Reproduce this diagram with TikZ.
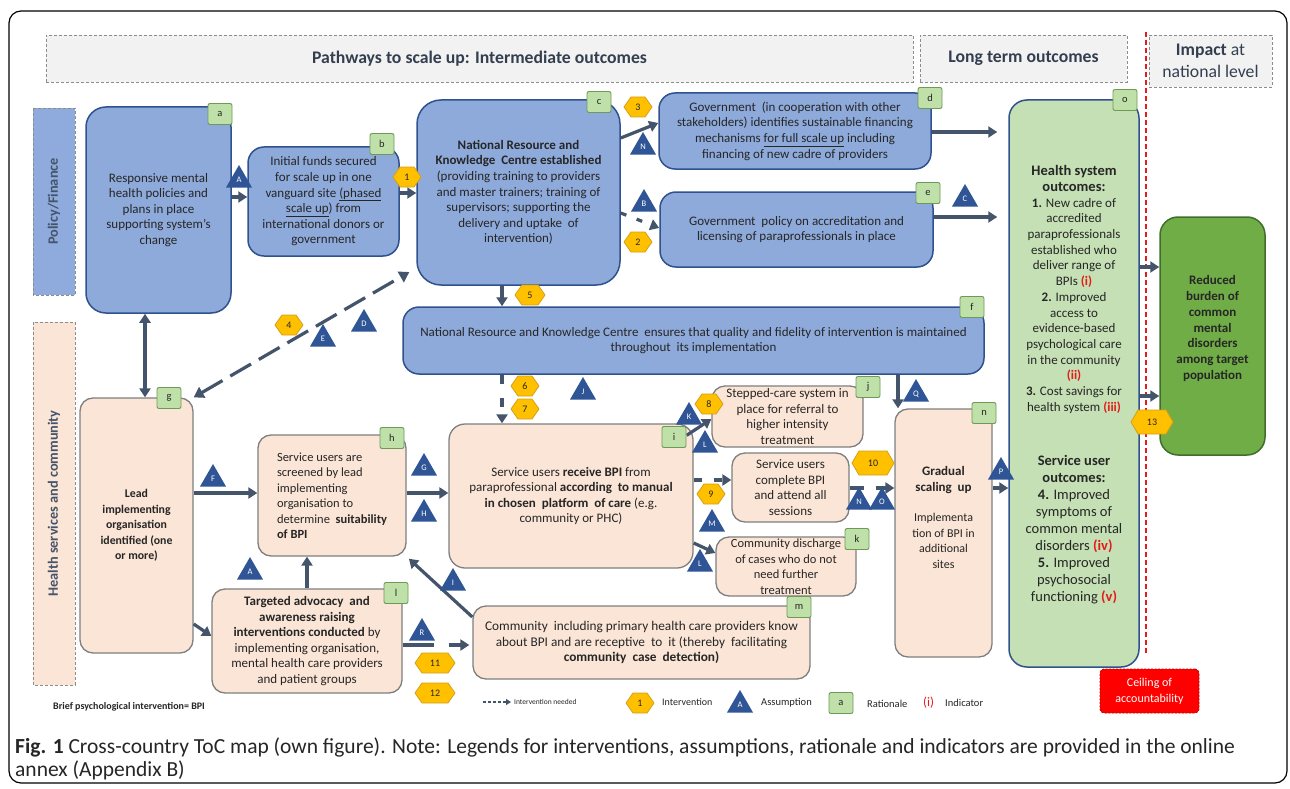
\documentclass[tikz,border=0pt]{standalone}
\usepackage{fontspec}
\setmainfont{Carlito}
\usetikzlibrary{arrows.meta,shapes.geometric,calc,backgrounds}
\definecolor{bfill}{HTML}{8EAADB}
\definecolor{bline}{HTML}{2F528F}
\definecolor{pfill}{HTML}{FBE5D6}
\definecolor{pline}{HTML}{7F7F7F}
\definecolor{ofill}{HTML}{C5E0B4}
\definecolor{rfill}{HTML}{70AD47}
\definecolor{rline}{HTML}{3F6F2A}
\definecolor{gfill}{HTML}{BFE0A8}
\definecolor{gline}{HTML}{6E9A57}
\definecolor{hfill}{HTML}{FFC000}
\definecolor{hline}{HTML}{D4A017}
\definecolor{tfill}{HTML}{2F5597}
\definecolor{conncol}{HTML}{44546A}
\definecolor{txt}{HTML}{262626}
\definecolor{headtxt}{HTML}{333F50}
\definecolor{headfill}{HTML}{F2F2F2}
\definecolor{headline}{HTML}{8C8C8C}
\definecolor{indred}{HTML}{E31B1B}
\definecolor{sidefillb}{HTML}{8FAADC}
\definecolor{ceilred}{HTML}{FF0000}
\definecolor{ceilline}{HTML}{C00000}
\newcommand\fsN{\fontsize{13}{15.6}\selectfont}
\newcommand\fsM{\fontsize{13}{15.5}\selectfont}
\newcommand\indi[1]{\textcolor{indred}{\textbf{#1}}}
\newcommand\myhex[6]{%
  \path[hexshape] (#2-#4,#3) -- (#2-#4+7,#3-#5) -- (#2+#4-7,#3-#5) -- (#2+#4,#3) -- (#2+#4-7,#3+#5) -- (#2-#4+7,#3+#5) -- cycle;
  \node[hextext] (#1) at (#2,#3) {#6};}
\tikzset{
 bluebox/.style={draw=bline, fill=bfill, line width=1.5pt, rounded corners=16pt, text=txt, align=center, inner sep=1pt, font=\fsN},
 peachbox/.style={draw=pline, fill=pfill, line width=1.3pt, rounded corners=13pt, text=txt, align=center, inner sep=1pt, font=\fsN},
 badge/.style={draw=gline, fill=gfill, line width=0.9pt, rounded corners=2pt, minimum width=24pt, minimum height=21pt, inner sep=0pt, text=txt, font=\fontsize{10.5}{12}\selectfont},
 tri/.style={regular polygon, regular polygon sides=3, minimum size=30pt, inner sep=0pt, fill=tfill, text=white, font=\fontsize{8.5}{9}\selectfont},
 hexshape/.style={fill=hfill, draw=hline, line width=0.8pt},
 hextext/.style={inner sep=0pt, text=txt, font=\fontsize{10}{11}\selectfont},
 conn/.style={draw=conncol, line width=3.2pt, -{Triangle[length=9pt,width=11pt]}},
 header/.style={draw=headline, fill=headfill, dash pattern=on 3pt off 2pt, line width=0.8pt, text=headtxt, font=\fontsize{17.7}{22}\selectfont, align=center},
 side/.style={draw=headline, dash pattern=on 3pt off 2pt, line width=0.8pt, rotate=90, text=conncol, font=\fontsize{14.3}{16}\selectfont\bfseries},
 legtxt/.style={anchor=west, text=txt, inner sep=0pt},
 plaintxt/.style={text=txt, align=center, inner sep=0pt}
}
\begin{document}
\begin{tikzpicture}[x=1pt,y=-1pt]
\useasboundingbox (0,0) rectangle (1290,789);
\fill[white] (0,0) rectangle (1290,789);
\draw[black, line width=1.2pt, rounded corners=12pt] (9,11) rectangle (1287,783);

% headers
\node[header, minimum width=867pt, minimum height=47pt] (h1) at (479.5,58.5) {\textbf{Pathways to scale up: Intermediate outcomes}};
\node[header, minimum width=207pt, minimum height=47pt] (h2) at (1023.5,58.5) {\textbf{Long term outcomes}};
\node[header, minimum width=123pt, minimum height=52pt] (h3) at (1210.5,61) {\textbf{Impact} at\\national level};
\draw[indred, line width=1.6pt, dash pattern=on 5pt off 3pt] (1146,32) -- (1146,655);

% side labels
\node[side, fill=sidefillb, minimum width=187pt, minimum height=42pt] (pf) at (54,201.5) {Policy/Finance};
\node[side, fill=pfill, minimum width=363pt, minimum height=42pt] (hsc) at (54,503.5) {Health services and community};

% blue boxes
\node[bluebox, minimum width=145pt, minimum height=206pt, rounded corners=20pt] (a) at (158.5,210) {Responsive mental\\health policies and\\plans in place\\supporting system’s\\change};
\node[bluebox, minimum width=151pt, minimum height=109pt] (b) at (323.5,201.5) {Initial funds secured\\for scale up in one\\vanguard site \underline{(phased}\\\underline{scale up}) from\\international donors or\\government};
\node[bluebox, minimum width=203pt, minimum height=185pt, rounded corners=24pt] (c) at (518.5,192.5) {\textbf{National Resource and}\\\textbf{Knowledge\ \ Centre established}\\(providing training to providers\\and master trainers; training of\\supervisors; supporting the\\delivery and uptake\ \ of\\intervention)};
\node[bluebox, minimum width=272pt, minimum height=76pt] (d) at (795,131) {Government\ \ (in cooperation with other\\stakeholders) identifies sustainable financing\\mechanisms \underline{for full scale up} including\\financing of new cadre of providers};
\node[bluebox, minimum width=273pt, minimum height=75pt] (e) at (796.5,229.5) {Government\ \ policy on accreditation and\\licensing of paraprofessionals in place};
\node[bluebox, minimum width=581pt, minimum height=67pt] (f) at (693.5,340.5) {National Resource and Knowledge Centre\ \ ensures that quality and fidelity of intervention is maintained\\throughout\ \ its implementation};

% outcome boxes
\node[draw=bline, fill=ofill, line width=1.5pt, rounded corners=18pt, minimum width=130pt, minimum height=567pt] (o) at (1074,383.5) {};
\node[plaintxt, font=\fontsize{13}{15.7}\selectfont] (ot1) at (1074,289.5) {{\fontsize{14.5}{16}\selectfont\textbf{Health system}}\\{\fontsize{14.5}{16}\selectfont\textbf{outcomes:}}\\\textbf{1.} New cadre of\\accredited\\paraprofessionals\\established who\\deliver range of\\BPIs \indi{(i)}\\\textbf{2.} Improved\\access to\\evidence-based\\psychological care\\in the community\\\indi{(ii)}\\\textbf{3.} Cost savings for\\health system \indi{(iii)}};
\node[plaintxt, font=\fontsize{14.5}{17}\selectfont] (ot2) at (1074,530) {\textbf{Service user}\\\textbf{outcomes:}\\\textbf{4.} Improved\\symptoms of\\common mental\\disorders \indi{(iv)}\\\textbf{5.} Improved\\psychosocial\\functioning \indi{(v)}};
\node[draw=rline, fill=rfill, line width=1.5pt, rounded corners=18pt, minimum width=105pt, minimum height=238pt] (R) at (1212.5,336) {};
\node[plaintxt, font=\fontsize{13}{15.7}\selectfont\bfseries] (Rt) at (1212.5,328.5) {Reduced\\burden of\\common\\mental\\disorders\\among target\\population};

% peach boxes
\node[peachbox, minimum width=113pt, minimum height=255pt, font=\fontsize{11.8}{15.6}\selectfont\bfseries] (g) at (136.5,525.5) {Lead\\implementing\\organisation\\identified (one\\or more)};
\node[peachbox, minimum width=148pt, minimum height=121pt, align=left, font=\fontsize{12.5}{15.5}\selectfont] (h) at (332,495.5) {Service users are\\screened by lead\\implementing\\organisation to\\determine\ \ \textbf{suitability}\\\textbf{of BPI}};
\node[peachbox, minimum width=244pt, minimum height=144pt, rounded corners=16pt] (i) at (571,496) {Service users \textbf{receive BPI} from\\paraprofessional \textbf{according\ \ to manual}\\\textbf{in chosen\ \ platform\ \ of care} (e.g.\\community or PHC)};
\node[peachbox, minimum width=151pt, minimum height=61pt, inner sep=0pt, font=\fsM] (j) at (787.5,416.5) {Stepped-care system in\\place for referral to\\higher intensity\\treatment};
\node[peachbox, minimum width=117pt, minimum height=69pt, font=\fsM] (cu) at (790.5,487.5) {Service users\\complete BPI\\and attend all\\sessions};
\node[peachbox, minimum width=140pt, minimum height=59pt, inner sep=0pt, font=\fontsize{12.5}{15.5}\selectfont] (k) at (786,566.5) {Community discharge\\of cases who do not\\need further\\treatment};
\node[peachbox, minimum width=190pt, minimum height=104pt] (l) at (307,641) {\textbf{Targeted advocacy\ \ and}\\\textbf{awareness raising}\\\textbf{interventions conducted} by\\implementing organisation,\\mental health care providers\\and patient groups};
\node[peachbox, minimum width=337pt, minimum height=73pt, font=\fontsize{13.3}{15.5}\selectfont] (m) at (641.5,642.5) {Community\ \ including primary health care providers know\\about BPI and are receptive\ \ to\ \ it (thereby\ \ facilitating\\\textbf{community\ \ case\ \ detection)}};
\node[peachbox, minimum width=97pt, minimum height=248pt] (n) at (943.5,533) {};
\node[plaintxt, font=\fontsize{12}{15.5}\selectfont] (nt) at (943.5,517.5) {{\fontsize{13}{15.5}\selectfont\textbf{Gradual}}\\{\fontsize{13}{15.5}\selectfont\textbf{scaling\ \ up}}\\[15pt]Implementa\\tion of BPI in\\additional\\sites};

% connectors behind boxes
\begin{pgfonlayer}{background}
\draw[conn] (l.north -| 267,0) -- (b.south -| 267,0);
\draw[conn] (c.south -| 563,0) -- (i.north -| 563,0);
\draw[conn] (e.south -| 670,0) -- (i.north -| 670,0);
\end{pgfonlayer}

% connectors
\draw[conn] (a.east |- 0,197) -- (b.west |- 0,197);
\draw[conn] (b.east |- 0,193) -- (c.west |- 0,193);
\draw[conn] (c.east |- 0,138) -- (d.west |- 0,123);
\draw[conn, dash pattern=on 6pt off 11pt] (c.east |- 0,213) -- (e.west |- 0,228);
\draw[conn, shorten >=11pt] (d.east |- 0,132) -- (o.west |- 0,132);
\draw[conn, shorten >=11pt] (e.east |- 0,217) -- (o.west |- 0,217);
\draw[conn] (o.east |- 0,267) -- (R.west |- 0,267);
\draw[conn] (o.east |- 0,396) -- (R.west |- 0,396);
\draw[conn] (c.south -| 502,0) -- (f.north -| 502,0);
\draw[conn, dash pattern=on 9pt off 14pt] (f.south -| 502,0) -- (i.north -| 502,0);
\draw[conn] (f.south -| 898,0) -- (n.north -| 898,0);
\draw[conn, {Triangle[length=9pt,width=11pt]}-{Triangle[length=9pt,width=11pt]}] (a.south -| 145,0) -- (g.north -| 145,0);
\draw[conn, dash pattern=on 24pt off 9pt, {Triangle[length=10pt,width=12pt]}-{Triangle[length=10pt,width=12pt]}, shorten >=8pt] (g.north east) -- (c.west |- 0,268);
\draw[conn] (g.east |- 0,493) -- (h.west |- 0,493);
\draw[conn] (h.east |- 0,493) -- (i.west |- 0,493);
\draw[conn] (l.north -| 307,0) -- (h.south -| 307,0);
\draw[conn, shorten >=3pt] (m.west |- 0,617) -- (h.south east);
\draw[conn, dash pattern=on 31pt off 15pt, shorten >=3pt] (l.east |- 0,645) -- (m.west |- 0,645);
\draw[conn] (g.east |- 0,624) -- (l.west |- 0,636);
\draw[conn] ($(i.north east)+(-7,12)$) -- (j.west |- 0,419);
\draw[conn, dash pattern=on 8pt off 12pt] (i.east |- 0,480) -- (cu.west |- 0,480);
\draw[conn] (i.east |- 0,543) -- (k.west |- 0,553);
\draw[conn, dash pattern=on 14pt off 12pt] (cu.east |- 0,488) -- (n.west |- 0,488);
\draw[conn] (n.east |- 0,488) -- (o.west |- 0,488);

% rationale badges
\node[badge] (ra) at (220,114) {a};
\node[badge] (rb) at (382,144) {b};
\node[badge] (rc) at (599,102) {c};
\node[badge] (rd) at (930,98) {d};
\node[badge] (re) at (928,193) {e};
\node[badge] (rf) at (972,307) {f};
\node[badge] (ro) at (1125,100) {o};
\node[badge] (rg) at (169,398) {g};
\node[badge] (rh) at (392,438) {h};
\node[badge] (ri) at (674,437) {i};
\node[badge] (rj) at (868,387) {j};
\node[badge] (rk) at (857,539) {k};
\node[badge] (rl) at (396,593) {l};
\node[badge] (rm) at (799,607) {m};
\node[badge] (rn) at (984,413) {n};

% assumptions
\node[tri] (tA1) at (239,180) {A};
\node[tri] (tN1) at (643,147) {N};
\node[tri] (tB) at (644,204) {B};
\node[tri] (tC) at (965,199) {C};
\node[tri] (tD) at (364,324) {D};
\node[tri] (tE) at (323,339) {E};
\node[tri] (tF) at (213,479) {F};
\node[tri] (tG) at (424,468) {G};
\node[tri] (tH) at (424,514) {H};
\node[tri] (tA2) at (250,572) {A};
\node[tri] (tI) at (453,583) {I};
\node[tri] (tJ) at (583,392) {J};
\node[tri] (tK) at (689,417) {K};
\node[tri] (tL1) at (705,445) {L};
\node[tri] (tL2) at (700,564) {L};
\node[tri] (tM) at (712,524) {M};
\node[tri] (tN2) at (859,502) {N};
\node[tri] (tO) at (882,502) {O};
\node[tri] (tP) at (1001,472) {P};
\node[tri] (tQ) at (916,394) {Q};
\node[tri] (tR) at (422,633) {R};

% interventions
\myhex{x1}{407}{177}{14}{10}{1}
\myhex{x2}{638}{242}{14}{10}{2}
\myhex{x3}{638}{107}{14}{10}{3}
\myhex{x4}{289}{325}{14}{10}{4}
\myhex{x5}{530}{295}{15}{10}{5}
\myhex{x6}{525}{386}{14}{10}{6}
\myhex{x7}{525}{409}{14}{10}{7}
\myhex{x8}{709}{404}{14}{10}{8}
\myhex{x9}{711}{494}{14}{10}{9}
\myhex{x10}{873}{463}{21}{12}{10}
\myhex{x11}{435}{663}{20}{10}{11}
\myhex{x12}{435}{693}{20}{10}{12}
\myhex{x13}{1152}{422}{21}{12}{13}

% legend
\node[legtxt, font=\fontsize{10}{11}\selectfont\bfseries] (bpi) at (53,707) {Brief psychological intervention= BPI};
\coordinate (lg1) at (483,702);
\coordinate (lg2) at (511,702);
\draw[draw=conncol, line width=1.2pt, dash pattern=on 3pt off 2pt, -{Triangle[length=5pt,width=6pt]}] (lg1) -- (lg2);
\node[legtxt, font=\fontsize{7.5}{9}\selectfont] (lgt1) at (514,702) {Intervention needed};
\myhex{xL}{640}{703}{14}{10}{1}
\node[legtxt, font=\fontsize{10}{11}\selectfont] (lgt2) at (662,702) {Intervention};
\node[tri] (tL) at (740,705) {A};
\node[legtxt, font=\fontsize{10.5}{11}\selectfont] (lgt3) at (761,703) {Assumption};
\node[badge] (rL) at (841,703) {a};
\node[legtxt, font=\fontsize{10.5}{11}\selectfont] (lgt4) at (867,704) {Rationale};
\node[legtxt, font=\fontsize{13}{14}\selectfont, text=indred] (lgt5) at (923,703) {(i)};
\node[legtxt, font=\fontsize{10.5}{11}\selectfont] (lgt6) at (945,703) {Indicator};
\node[draw=ceilline, fill=ceilred, dash pattern=on 2pt off 1.5pt, line width=0.9pt, rounded corners=4pt, minimum width=99pt, minimum height=44pt, inner sep=0pt, text=white, align=center, font=\fontsize{12}{16}\selectfont] (ceil) at (1149.5,691) {Ceiling of\\accountability};

% caption
\node[anchor=base west, inner sep=0pt, text=txt, font=\fontsize{21.5}{24}\selectfont] (cap1) at (15,753) {\textbf{Fig. 1} Cross-country ToC map (own figure). Note: Legends for interventions, assumptions, rationale and indicators are provided in the online};
\node[anchor=base west, inner sep=0pt, text=txt, font=\fontsize{21.5}{24}\selectfont] (cap2) at (15,776) {annex (Appendix B)};
\end{tikzpicture}
\end{document}
